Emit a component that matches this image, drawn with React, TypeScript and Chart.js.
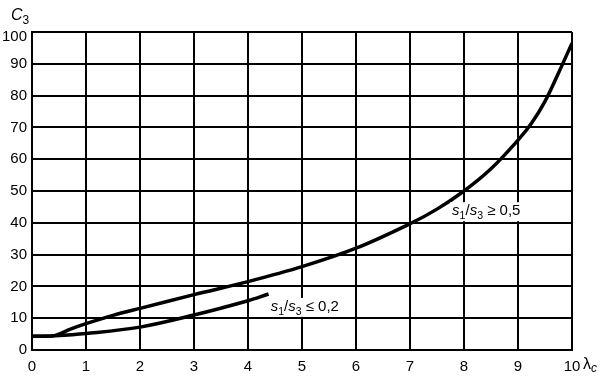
import React, { useEffect, useRef } from "react";
import { Chart, registerables } from "chart.js";

Chart.register(...registerables);

// Curve s1/s3 >= 0,5
const upperX = [0, 0.43, 0.7, 1, 1.5, 2, 3, 4, 5, 6, 7, 7.5, 8, 8.5, 9, 9.25, 9.5, 9.75, 10];
const upperY = [4.3, 4.6, 6.5, 8.3, 10.9, 13.1, 17.4, 21.5, 26.2, 32, 39.7, 44.3, 50, 57, 66, 71.3, 78.2, 87.1, 96.5];
// Curve s1/s3 <= 0,2
const lowerX = [0, 0.43, 1, 2, 3, 4, 4.38];
const lowerY = [4.3, 4.5, 5.2, 7.2, 11, 15.5, 17.6];

const xTicks = [0, 1, 2, 3, 4, 5, 6, 7, 8, 9, 10];
const yTicks = [0, 10, 20, 30, 40, 50, 60, 70, 80, 90, 100];

const FONT = "Liberation Sans, Arial, sans-serif";

type Part = { t: string; size: number; italic?: boolean; dy?: number };

function drawRich(ctx: CanvasRenderingContext2D, x: number, y: number, parts: Part[], bg = false) {
  let w = 0;
  for (const p of parts) {
    ctx.font = `${p.italic ? "italic " : ""}${p.size}px ${FONT}`;
    w += ctx.measureText(p.t).width;
  }
  if (bg) {
    ctx.fillStyle = "#fff";
    ctx.fillRect(x - 2, y - 13, w + 4, 19);
  }
  ctx.fillStyle = "#000";
  ctx.textBaseline = "alphabetic";
  ctx.textAlign = "left";
  let cx = x;
  for (const p of parts) {
    ctx.font = `${p.italic ? "italic " : ""}${p.size}px ${FONT}`;
    ctx.fillText(p.t, cx, y + (p.dy || 0));
    cx += ctx.measureText(p.t).width;
  }
}

const textPlugin = {
  id: "texts",
  afterDraw(chart: any) {
    const ctx = chart.ctx as CanvasRenderingContext2D;
    const xs = chart.scales.x;
    const ys = chart.scales.y;
    ctx.save();
    // y tick labels
    ctx.font = `15px ${FONT}`;
    ctx.fillStyle = "#000";
    ctx.textAlign = "right";
    ctx.textBaseline = "middle";
    for (const v of yTicks) {
      const py = ys.getPixelForValue(v) + (v === 100 ? 5 : 0);
      ctx.fillText(String(v), 27, py);
    }
    // axis titles
    drawRich(ctx, 11, 20, [
      { t: "C", size: 16, italic: true },
      { t: "3", size: 12, dy: 4 },
    ]);
    drawRich(ctx, 583, 369, [
      { t: "λ", size: 16 },
      { t: "c", size: 12, italic: true, dy: 3 },
    ]);
    // annotations
    const sub = (op: string) => [
      { t: "s", size: 15, italic: true },
      { t: "1", size: 10.5, dy: 4 },
      { t: "/", size: 15 },
      { t: "s", size: 15, italic: true },
      { t: "3", size: 10.5, dy: 4 },
      { t: op, size: 15 },
    ];
    drawRich(ctx, xs.getPixelForValue(7.78), ys.getPixelForValue(42.4), sub(" ≥ 0,5"), true);
    drawRich(ctx, xs.getPixelForValue(4.42), ys.getPixelForValue(12.3), sub(" ≤ 0,2"), true);
    ctx.restore();
  },
};

export default function App() {
  const ref = useRef<HTMLCanvasElement | null>(null);
  useEffect(() => {
    if (!ref.current) return;
    const ds = (label: string, xs: number[], ys: number[]) => ({
      label,
      data: xs.map((x, i) => ({ x, y: ys[i] })),
      borderColor: "#000",
      borderWidth: 3.5,
      pointRadius: 0,
      tension: 0.35,
      fill: false,
    });
    const chart = new Chart(ref.current, {
      type: "line",
      data: {
        datasets: [ds("s1/s3 ≥ 0,5", upperX, upperY), ds("s1/s3 ≤ 0,2", lowerX, lowerY)],
      },
      options: {
        animation: false,
        responsive: false,
        devicePixelRatio: 1,
        layout: { padding: { top: 32, right: 33, left: 0, bottom: 0 } },
        plugins: { legend: { display: false }, tooltip: { enabled: false } },
        scales: {
          x: {
            type: "linear",
            min: 0,
            max: 10,
            afterFit: (s: any) => {
              s.height = 27;
            },
            afterBuildTicks: (s: any) => {
              s.ticks = xTicks.map((v) => ({ value: v }));
            },
            ticks: { color: "#000", font: { family: FONT, size: 15 }, padding: 8, maxRotation: 0 },
            grid: { color: "#000", lineWidth: 2, drawTicks: false },
            border: { color: "#000", width: 2 },
          },
          y: {
            type: "linear",
            min: 0,
            max: 100,
            afterFit: (s: any) => {
              s.width = 32;
            },
            afterBuildTicks: (s: any) => {
              s.ticks = yTicks.map((v) => ({ value: v }));
            },
            ticks: { display: false },
            grid: { color: "#000", lineWidth: 2, drawTicks: false },
            border: { color: "#000", width: 2 },
          },
        },
      },
      plugins: [textPlugin],
    } as any);
    return () => chart.destroy();
  }, []);
  return (
    <div style={{ position: "fixed", left: 0, top: 0, width: 605, height: 377, background: "#fff" }}>
      <canvas ref={ref} width={605} height={377} />
    </div>
  );
}
